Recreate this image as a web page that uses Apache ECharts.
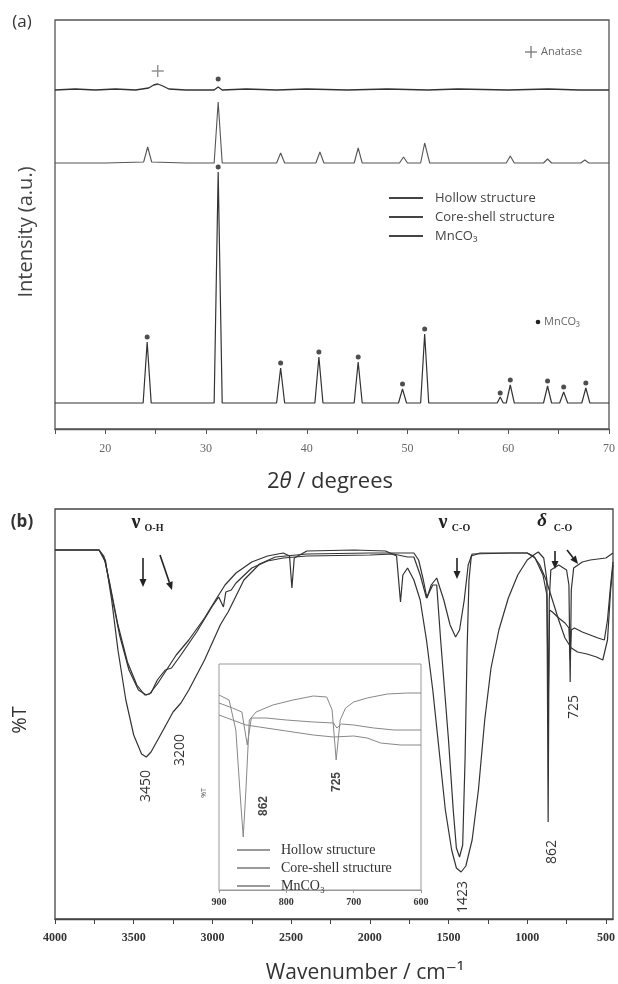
<!DOCTYPE html>
<html>
<head>
<meta charset="utf-8">
<script src="https://cdn.jsdelivr.net/npm/echarts@6/dist/echarts.min.js"></script>
<style>
  html, body { margin: 0; padding: 0; background: #fff; }
  #chart { width: 618px; height: 984px; }
</style>
</head>
<body>
<div id="chart"></div>
<script>
var names = ['Hollow structure', 'Core-shell structure', 'MnCO₃'];

// (a) XRD, intensity in arbitrary units, [2theta, counts]
var hollowXRD = [[15,339],[17,340],[19,339],[21,340],[23,339],[24.3,341],[24.8,344],[25.2,345],[25.7,343],[26.3,340],[28,339],[30.8,339],[31.2,342],[31.6,339],[34,340],[37,339],[40,340],[44,339],[48,340],[52,339],[55,340],[60,339],[64,340],[67,339],[70,339]];
var coreShellXRD = [[15,266],[20,266],[23.8,267],[24.2,282],[24.6,267],[28,266],[30.8,266],[31.2,327],[31.6,266],[35,266],[37.0,266],[37.4,276],[37.8,266],[40.9,266],[41.3,277],[41.7,266],[44.7,266],[45.1,281],[45.5,266],[49.2,266],[49.6,272],[50.0,266],[51.3,266],[51.7,286],[52.2,266],[56,266],[59.8,266],[60.2,273],[60.6,266],[63.5,266],[63.9,270],[64.3,266],[67.2,266],[67.6,269],[68.0,266],[70,266]];
var mnco3XRD = [[15,26],[20,26],[23.75,26],[24.15,87],[24.55,26],[28,26],[30.8,26],[31.2,257],[31.6,26],[35,26],[37.0,26],[37.4,61],[37.8,26],[40.8,26],[41.2,72],[41.6,26],[44.7,26],[45.1,67],[45.5,26],[49.1,26],[49.5,40],[49.9,26],[51.3,26],[51.7,95],[52.1,26],[56,26],[58.9,26],[59.2,32],[59.5,26],[59.8,26],[60.2,44],[60.6,26],[63.5,26],[63.9,43],[64.3,26],[65.1,26],[65.5,37],[65.9,26],[67.3,26],[67.7,41],[68.1,26],[70,26]];
var mnDots = [[24.15,92],[31.2,262],[31.2,350],[37.4,66],[41.2,77],[45.1,72],[49.5,45],[51.7,100],[59.2,36],[60.2,49],[63.9,48],[65.5,42],[67.7,46]];
var anatasePlus = [[25.2,358]];
var xrdTicks = [20, 30, 40, 50, 60, 70];

// (b) FTIR, [wavenumber, %T]
var hollowIR = [[4000,369],[3720,369],[3680,359],[3640,319],[3600,269],[3550,219],[3500,184],[3450,165],[3420,162],[3390,167],[3330,184],[3250,207],[3200,216],[3150,229],[3050,259],[2950,294],[2920,302],[2900,307],[2800,339],[2700,355],[2600,362],[2400,365],[2000,366],[1720,366],[1690,359],[1660,339],[1637,321],[1610,334],[1575,341],[1530,319],[1490,294],[1455,282],[1430,289],[1400,319],[1375,354],[1350,365],[1100,366],[1000,366],[960,363],[920,354],[880,339],[840,319],[800,299],[760,281],[720,271],[680,267],[620,265],[560,262],[520,259],[490,279],[470,329],[455,354]];
var coreShellIR = [[4000,369],[3720,369],[3680,357],[3640,324],[3590,284],[3530,249],[3470,229],[3420,224],[3390,226],[3350,239],[3300,249],[3260,251],[3200,264],[3100,287],[3000,313],[2960,322],[2930,312],[2915,327],[2880,329],[2850,336],[2750,351],[2650,358],[2550,361],[2400,363],[2000,364],[1850,365],[1760,362],[1720,362],[1680,344],[1640,321],[1600,334],[1575,334],[1550,279],[1500,179],[1470,109],[1450,71],[1430,62],[1410,74],[1395,159],[1382,269],[1370,339],[1355,363],[1300,366],[1000,366],[950,361],[900,344],[875,324],[866,219],[858,309],[840,307],[800,301],[760,296],[735,291],[727,259],[720,289],[700,291],[650,287],[600,284],[550,281],[510,279],[490,299],[470,334],[455,357]];
var mnco3IR = [[4000,369],[3720,369],[3690,363],[3650,334],[3600,294],[3540,257],[3480,234],[3430,224],[3400,225],[3350,235],[3300,247],[3230,264],[3150,279],[3050,301],[2980,319],[2920,334],[2850,346],[2750,357],[2650,363],[2550,366],[2510,363],[2495,331],[2480,361],[2400,368],[2100,369],[1900,368],[1830,363],[1805,317],[1790,344],[1760,351],[1720,339],[1680,319],[1640,279],[1600,229],[1560,169],[1520,109],[1480,69],[1450,51],[1420,47],[1390,53],[1350,79],[1310,129],[1270,199],[1230,251],[1180,289],[1120,321],[1060,344],[1000,359],[950,365],[930,367],[895,361],[875,339],[867,97],[860,319],[850,349],[800,354],[750,349],[735,334],[727,237],[720,329],[705,351],[650,357],[600,359],[550,360],[500,361],[455,366]];
var wnTicks = [500, 750, 1000, 1250, 1500, 1750, 2000, 2250, 2500, 2750, 3000, 3250, 3500, 3750, 4000];
var wnLabels = [500, 1000, 1500, 2000, 2500, 3000, 3500, 4000];

// inset, 900-600 cm-1
var hollowInset = [[900,175],[880,170],[860,165],[840,163],[800,159],[760,155],[730,153],[700,154],[680,152],[660,147],[630,145],[600,145]];
var coreShellInset = [[900,187],[880,182],[866,178],[858,145],[852,172],[830,172],[800,170],[760,168],[730,167],[725,162],[718,166],[700,165],[670,162],[640,160],[600,160]];
var mnco3Inset = [[900,195],[885,190],[875,160],[868,90],[864,53],[860,100],[855,170],[845,178],[820,185],[790,190],[760,194],[740,193],[732,180],[726,130],[720,170],[712,182],[700,188],[680,192],[650,196],[620,197],[600,197]];

var myChart = echarts.init(document.getElementById('chart'));

var sans = '"Open Sans", "DejaVu Sans", sans-serif';

function lineSeries(name, data, axis, color, width) {
  return {
    name: name, type: 'line', data: data,
    xAxisIndex: axis, yAxisIndex: axis,
    showSymbol: false, smooth: false,
    lineStyle: { color: color, width: width },
    itemStyle: { color: color }
  };
}

function txt(x, y, s, font, fill, rot, align) {
  return {
    type: 'text', x: x, y: y, rotation: rot || 0, silent: true,
    style: { text: s, font: font, fill: fill || '#333', align: align || 'center', verticalAlign: 'middle' }
  };
}

function arrow(x1, y1, x2, y2) {
  var a = Math.atan2(y2 - y1, x2 - x1), h = 8, w = 3.5;
  var bx = x2 - h * Math.cos(a), by = y2 - h * Math.sin(a);
  return [
    { type: 'line', silent: true, shape: { x1: x1, y1: y1, x2: bx, y2: by }, style: { stroke: '#222', lineWidth: 1.6 } },
    { type: 'polygon', silent: true, shape: { points: [[x2, y2], [bx + w * Math.sin(a), by - w * Math.cos(a)], [bx - w * Math.sin(a), by + w * Math.cos(a)]] }, style: { fill: '#222' } }
  ];
}

var graphics = [
  txt(22, 22, '(a)', '17px ' + sans, '#333'),
  txt(22, 522, '(b)', 'bold 17px ' + sans, '#333'),
  txt(26, 232, 'Intensity (a.u.)', '20px ' + sans, '#444', Math.PI / 2),
  {
    type: 'text', x: 330, y: 482, silent: true,
    style: {
      text: '{n|2}{i|θ}{n| / degrees}', align: 'center', verticalAlign: 'middle',
      rich: { n: { font: '22px ' + sans, fill: '#333' }, i: { font: 'italic 22px ' + sans, fill: '#333' } }
    }
  },
  txt(20, 720, '%T', '20px ' + sans, '#333', Math.PI / 2),
  txt(365, 973, 'Wavenumber / cm⁻¹', '21px ' + sans, '#333'),
  // anatase key
  { type: 'line', silent: true, shape: { x1: 525, y1: 52, x2: 537, y2: 52 }, style: { stroke: '#777', lineWidth: 1.3 } },
  { type: 'line', silent: true, shape: { x1: 531, y1: 46, x2: 531, y2: 58 }, style: { stroke: '#777', lineWidth: 1.3 } },
  txt(541, 52, 'Anatase', '11px ' + sans, '#666', 0, 'left'),
  // MnCO3 key
  { type: 'circle', silent: true, shape: { cx: 538, cy: 322, r: 2.3 }, style: { fill: '#222' } },
  txt(544, 322, 'MnCO₃', '11px ' + sans, '#666', 0, 'left'),
  // band labels
  txt(136, 523, 'ν', 'bold 20px "Liberation Serif"', '#222'),
  txt(154, 528, 'O-H', 'bold 10px "Liberation Serif"', '#222'),
  txt(443, 523, 'ν', 'bold 20px "Liberation Serif"', '#222'),
  txt(461, 528, 'C-O', 'bold 10px "Liberation Serif"', '#222'),
  txt(542, 521, 'δ', 'bold italic 19px "Liberation Serif"', '#222'),
  txt(563, 528, 'C-O', 'bold 10px "Liberation Serif"', '#222'),
  txt(146, 786, '3450', '14px ' + sans, '#333', Math.PI / 2),
  txt(180, 750, '3200', '14px ' + sans, '#333', Math.PI / 2),
  txt(463, 897, '1423', '14px ' + sans, '#333', Math.PI / 2),
  txt(552, 852, '862', '14px ' + sans, '#333', Math.PI / 2),
  txt(574, 707, '725', '14px ' + sans, '#333', Math.PI / 2),
  txt(264, 806, '862', 'bold 12px "Liberation Sans", sans-serif', '#444', Math.PI / 2),
  txt(337, 782, '725', 'bold 12px "Liberation Sans", sans-serif', '#444', Math.PI / 2),
  txt(204, 793, '%T', '7px ' + sans, '#555', Math.PI / 2)
]
  .concat(arrow(143, 558, 143, 587))
  .concat(arrow(160, 555, 172, 590))
  .concat(arrow(457, 558, 457, 579))
  .concat(arrow(555, 551, 555, 569))
  .concat(arrow(567, 550, 578, 564));

var option = {
  animation: false,
  backgroundColor: '#fff',
  grid: [
    { left: 55, right: 8, top: 20, height: 409, show: true, borderColor: '#555', borderWidth: 1.3 },
    { left: 55, right: 5, top: 509, height: 410, show: true, borderColor: '#444', borderWidth: 1.3 },
    { left: 219, top: 664, width: 202, height: 226, show: true, borderColor: '#999', borderWidth: 1 }
  ],
  xAxis: [
    {
      type: 'value', gridIndex: 0, min: 15, max: 70, interval: 5,
      axisLine: { lineStyle: { color: '#555', width: 1.3 } },
      axisTick: { length: 5, lineStyle: { color: '#555' } },
      axisLabel: {
        color: '#666', fontFamily: 'Liberation Serif', fontSize: 12, margin: 14,
        formatter: function (v) { return xrdTicks.indexOf(v) >= 0 ? String(v) : ''; }
      },
      splitLine: { show: false }
    },
    {
      type: 'value', gridIndex: 1, min: 455, max: 4000, inverse: true,
      axisLine: { lineStyle: { color: '#444', width: 1.3 } },
      axisTick: { length: 5, customValues: wnTicks, lineStyle: { color: '#444' } },
      axisLabel: {
        customValues: wnLabels, color: '#333', fontFamily: '"Liberation Sans Narrow"', fontWeight: 'bold', fontSize: 12, margin: 13,
        formatter: function (v) { return String(v); }
      },
      splitLine: { show: false }
    },
    {
      type: 'value', gridIndex: 2, min: 600, max: 900, interval: 100, inverse: true,
      axisLine: { lineStyle: { color: '#999' } },
      axisTick: { length: 3, lineStyle: { color: '#999' } },
      axisLabel: { color: '#333', fontFamily: 'Liberation Serif', fontWeight: 'bold', fontSize: 10, margin: 7 },
      splitLine: { show: false }
    }
  ],
  yAxis: [
    { type: 'value', gridIndex: 0, min: 0, max: 409, show: false },
    { type: 'value', gridIndex: 1, min: 0, max: 410, show: false },
    { type: 'value', gridIndex: 2, min: 0, max: 226, show: false }
  ],
  legend: [
    {
      data: names, left: 384, top: 186, orient: 'vertical', icon: 'rect',
      itemWidth: 34, itemHeight: 2, itemGap: 5, selectedMode: false,
      itemStyle: { color: '#444' },
      textStyle: { fontFamily: sans, fontSize: 13, color: '#444', lineHeight: 14, padding: [0, 0, 0, 7] }
    },
    {
      data: names, left: 232, top: 838, orient: 'vertical', icon: 'rect',
      itemWidth: 33, itemHeight: 1.5, itemGap: 4, selectedMode: false,
      itemStyle: { color: '#777' },
      textStyle: { fontFamily: 'Liberation Serif', fontSize: 14, color: '#333', lineHeight: 14, padding: [0, 0, 0, 6] }
    }
  ],
  series: [
    lineSeries(names[0], hollowXRD, 0, '#333', 1.3),
    lineSeries(names[1], coreShellXRD, 0, '#555', 1.1),
    lineSeries(names[2], mnco3XRD, 0, '#333', 1.2),
    {
      type: 'scatter', xAxisIndex: 0, yAxisIndex: 0, data: mnDots,
      symbol: 'circle', symbolSize: 5, itemStyle: { color: '#222' }, silent: true
    },
    {
      type: 'scatter', xAxisIndex: 0, yAxisIndex: 0, data: anatasePlus,
      symbol: 'path://M4.4,0H5.6V4.4H10V5.6H5.6V10H4.4V5.6H0V4.4H4.4Z', symbolSize: 12,
      itemStyle: { color: '#777' }, silent: true
    },
    lineSeries(names[0], hollowIR, 1, '#333', 1.2),
    lineSeries(names[1], coreShellIR, 1, '#333', 1.2),
    lineSeries(names[2], mnco3IR, 1, '#333', 1.2),
    lineSeries(names[0], hollowInset, 2, '#888', 1),
    lineSeries(names[1], coreShellInset, 2, '#888', 1),
    lineSeries(names[2], mnco3Inset, 2, '#888', 1)
  ],
  graphic: graphics
};

myChart.setOption(option);
</script>
</body>
</html>
